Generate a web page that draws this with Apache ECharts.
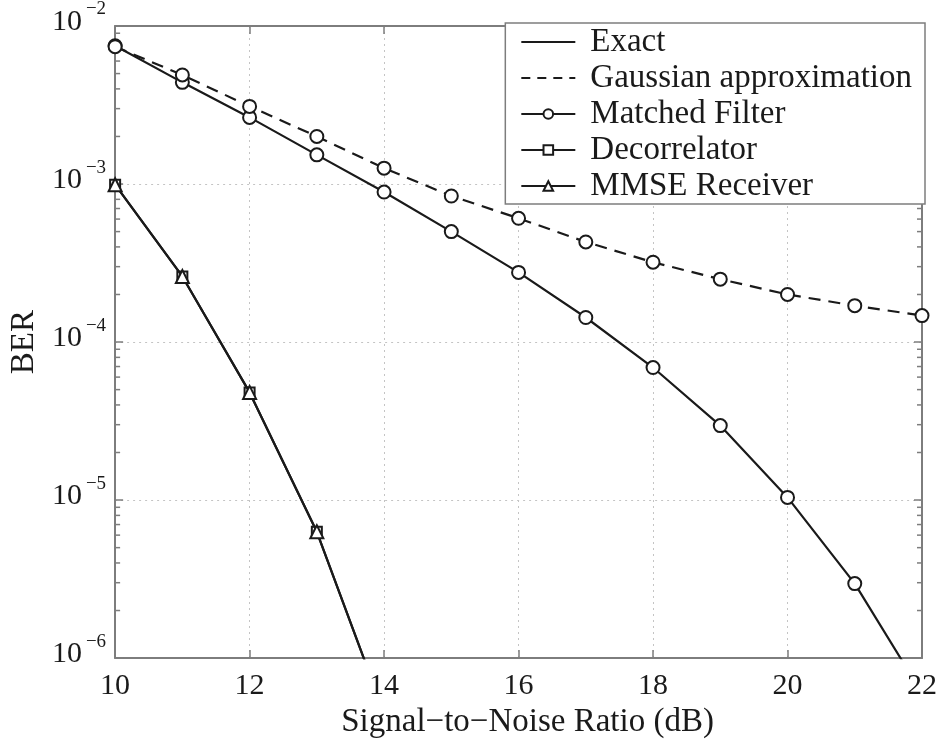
<!DOCTYPE html>
<html>
<head>
<meta charset="utf-8">
<script src="https://cdn.jsdelivr.net/npm/echarts@6/dist/echarts.min.js"></script>
<style>
html,body{margin:0;padding:0;background:#fff;}
#chart{width:945px;height:744px;}
</style>
</head>
<body>
<div id="chart"></div>
<script>
// ---- data ----
const snr = [10, 11, 12, 13, 14, 15, 16, 17, 18, 19, 20, 21, 22];
const mfExact = [7.5e-3, 4.4e-3, 2.64e-3, 1.53e-3, 8.9e-4, 5.0e-4, 2.76e-4, 1.43e-4, 6.9e-5, 2.96e-5, 1.04e-5, 2.96e-6, 6.0e-7];
const mfGauss = [7.4e-3, 4.9e-3, 3.1e-3, 2.0e-3, 1.26e-3, 8.4e-4, 6.07e-4, 4.3e-4, 3.2e-4, 2.5e-4, 2.0e-4, 1.7e-4, 1.47e-4];
const snrLow = [10, 11, 12, 13, 14];
const decorrelator = [9.9e-4, 2.6e-4, 4.8e-5, 6.3e-6, 4.5e-7];
const mmse = [9.9e-4, 2.6e-4, 4.8e-5, 6.3e-6, 4.5e-7];
const legendNames = ['Exact', 'Gaussian approximation', 'Matched Filter', 'Decorrelator', 'MMSE Receiver'];
const xMin = 10, xMax = 22, xStep = 2;
const yMin = 1e-6, yMax = 1e-2;
const minorMantissas = [2, 3, 4, 5, 6, 7, 8, 9];
const decades = [-6, -5, -4, -3];

// ---- styling ----
const FONT = 'Liberation Serif';
const INK = '#1a1a1a';
const FRAME = '#7d7d7d';
const GRIDC = '#c4c4c4';
const NONE = 'rgba(0,0,0,0)';

const minorTicks = [];
decades.forEach(d => minorMantissas.forEach(m => minorTicks.push(m * Math.pow(10, d))));

function pairs(xs, ys) { return xs.map((x, i) => [x, ys[i]]); }

const LW = 2.2;
const lineBase = { color: INK, width: LW };
const symItem = { color: INK, borderColor: INK, borderWidth: 1.6 };

const chart = echarts.init(document.getElementById('chart'), null, { renderer: 'canvas' });

const yLabel = {
  fontFamily: FONT,
  margin: 9,
  color: INK,
  formatter: function (v) {
    const e = Math.round(Math.log10(v));
    return '{b|10}{s|' + (e < 0 ? '\u2212' : '') + Math.abs(e) + '}';
  },
  rich: {
    b: { fontFamily: FONT, fontSize: 30, lineHeight: 30, color: INK, verticalAlign: 'bottom', padding: [0, 0, 4, 0] },
    s: { fontFamily: FONT, fontSize: 19, lineHeight: 19, color: INK, verticalAlign: 'bottom', padding: [0, 0, 22, 4] }
  }
};

const option = {
  animation: false,
  backgroundColor: '#fff',
  grid: { left: 107, right: 23, top: 23, bottom: 77, containLabel: false },
  legend: {
    data: legendNames,
    orient: 'vertical',
    right: 20,
    top: 23,
    align: 'left',
    itemWidth: 54,
    itemHeight: 12,
    itemGap: 0,
    padding: [1, 13, 0, 15],
    backgroundColor: '#fff',
    borderColor: FRAME,
    borderWidth: 1.5,
    borderRadius: 0,
    selectedMode: false,
    textStyle: { fontFamily: FONT, fontSize: 33, lineHeight: 36, color: INK, padding: [0, 0, 0, 10] }
  },
  xAxis: [{
    type: 'value', min: xMin, max: xMax, interval: xStep, position: 'bottom',
    name: 'Signal\u2212to\u2212Noise Ratio (dB)', nameLocation: 'middle', nameGap: 40,
    nameTextStyle: { fontFamily: FONT, fontSize: 33, color: INK, padding: [0, 0, 0, 18] },
    axisLine: { show: true, lineStyle: { color: FRAME, width: 2 } },
    axisTick: { show: true, inside: true, length: 8, lineStyle: { color: FRAME, width: 1.5 } },
    axisLabel: { fontFamily: FONT, fontSize: 30, color: INK, margin: 13 },
    splitLine: { show: true, lineStyle: { color: GRIDC, type: [2, 4], width: 1 } }
  }, {
    type: 'value', min: xMin, max: xMax, interval: xStep, position: 'top',
    axisLine: { show: true, lineStyle: { color: FRAME, width: 2 } },
    axisTick: { show: true, inside: true, length: 8, lineStyle: { color: FRAME, width: 1.5 } },
    axisLabel: { show: false },
    splitLine: { show: false }
  }],
  yAxis: [{
    type: 'log', logBase: 10, min: yMin, max: yMax, position: 'left',
    name: 'BER', nameLocation: 'middle', nameGap: 62,
    nameTextStyle: { fontFamily: FONT, fontSize: 33, color: INK },
    axisLine: { show: true, lineStyle: { color: FRAME, width: 2 } },
    axisTick: { show: true, inside: true, length: 8, lineStyle: { color: FRAME, width: 1.5 } },
    axisLabel: yLabel,
    splitLine: { show: true, lineStyle: { color: GRIDC, type: [2, 4], width: 1 } },
    minorTick: { show: false }
  }, {
    type: 'log', logBase: 10, min: yMin, max: yMax, position: 'right',
    axisLine: { show: true, lineStyle: { color: FRAME, width: 2 } },
    axisTick: { show: true, inside: true, length: 8, lineStyle: { color: FRAME, width: 1.5 } },
    axisLabel: { show: false },
    splitLine: { show: false }
  }],
  series: [
    // legend-only entries
    { name: 'Exact', type: 'line', data: [], symbol: 'circle', symbolSize: 0,
      lineStyle: { color: INK, width: LW }, itemStyle: { color: NONE, borderColor: NONE, borderWidth: 0 } },
    { name: 'Gaussian approximation', type: 'line', data: [], symbol: 'circle', symbolSize: 0,
      lineStyle: { color: INK, width: LW, type: [9, 7] }, itemStyle: { color: NONE, borderColor: NONE, borderWidth: 0 } },
    { name: 'Matched Filter', type: 'line', data: [], symbol: 'emptyCircle', lineStyle: { color: INK, width: LW }, itemStyle: symItem },
    { name: 'Decorrelator', type: 'line', data: [], symbol: 'emptyRect', lineStyle: { color: INK, width: LW }, itemStyle: symItem },
    { name: 'MMSE Receiver', type: 'line', data: [], symbol: 'emptyTriangle', lineStyle: { color: INK, width: LW }, itemStyle: symItem },
    // data
    { name: 'MF exact', type: 'line', data: pairs(snr, mfExact), symbol: 'emptyCircle', symbolSize: 13,
      lineStyle: lineBase, itemStyle: symItem, clip: true, z: 3 },
    { name: 'MF Gaussian', type: 'line', data: pairs(snr, mfGauss), symbol: 'emptyCircle', symbolSize: 13,
      lineStyle: { color: INK, width: LW, type: [12, 8] }, itemStyle: symItem, clip: true, z: 3 },
    { name: 'Decorrelator exact', type: 'line', data: pairs(snrLow, decorrelator), symbol: 'emptyRect', symbolSize: 10,
      lineStyle: lineBase, itemStyle: symItem, clip: true, z: 3 },
    { name: 'MMSE exact', type: 'line', data: pairs(snrLow, mmse), symbol: 'emptyTriangle', symbolSize: 13,
      lineStyle: lineBase, itemStyle: symItem, clip: true, z: 4 },
    // minor log ticks on left and right frame
    { name: 'minor', type: 'custom', silent: true, z: 2,
      data: minorTicks.map(v => [xMin, v]),
      renderItem: function (params, api) {
        const v = api.value(1);
        const pL = api.coord([xMin, v]);
        const pR = api.coord([xMax, v]);
        return { type: 'group', children: [
          { type: 'line', shape: { x1: pL[0], y1: pL[1], x2: pL[0] + 5, y2: pL[1] }, style: { stroke: FRAME, lineWidth: 1.5 } },
          { type: 'line', shape: { x1: pR[0], y1: pR[1], x2: pR[0] - 5, y2: pR[1] }, style: { stroke: FRAME, lineWidth: 1.5 } }
        ] };
      }
    }
  ]
};
chart.setOption(option);
</script>
</body>
</html>
